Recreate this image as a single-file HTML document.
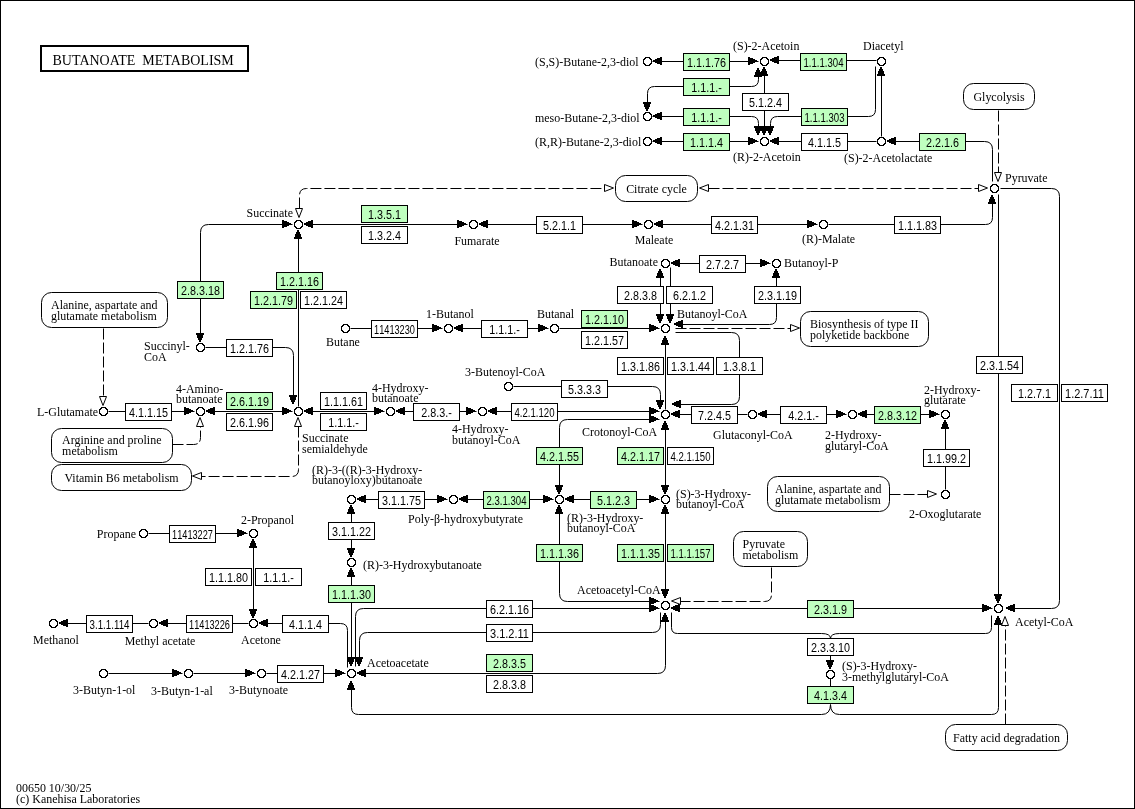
<!DOCTYPE html>
<html><head><meta charset="utf-8"><style>
html,body{margin:0;padding:0;background:#fff;}
svg{display:block;will-change:transform;}
.nm{font-family:"Liberation Serif",serif;font-size:13px;fill:#000;}
.ec{font-family:"Liberation Sans",sans-serif;font-size:12.5px;fill:#000;}
.ttl{font-family:"Liberation Serif",serif;font-size:14px;fill:#000;}
</style></head><body>
<svg width="1135" height="809" viewBox="0 0 1135 809">
<rect x="0.5" y="0.5" width="1134" height="808" fill="#fff" stroke="#000" stroke-width="1"/>
<rect x="41" y="46" width="207" height="25" fill="#fff" stroke="#000" stroke-width="2"/>
<text x="52.5" y="65" class="ttl">BUTANOATE&#160; METABOLISM</text>
<path d="M652.5,61.5 L758.5,61.5" fill="none" stroke="#000" stroke-width="1"/>
<path d="M653,60h1v2h-1z M654,60h1v2h-1z M655,59h1v4h-1z M656,59h1v4h-1z M657,58h1v6h-1z M658,58h1v6h-1z M659,58h1v6h-1z M660,57h1v8h-1z M661,57h1v8h-1z" fill="#000"/>
<path d="M757,61h1v1h-1z M756,60h1v2h-1z M755,60h1v2h-1z M754,59h1v4h-1z M753,59h1v4h-1z M752,58h1v6h-1z M751,58h1v6h-1z M750,58h1v6h-1z M749,57h1v8h-1z M748,57h1v8h-1z" fill="#000"/>
<path d="M770.5,60.5 L876.5,60.5" fill="none" stroke="#000" stroke-width="1"/>
<path d="M770,59h1v2h-1z M771,59h1v2h-1z M772,58h1v4h-1z M773,58h1v4h-1z M774,57h1v6h-1z M775,57h1v6h-1z M776,57h1v6h-1z M777,56h1v8h-1z M778,56h1v8h-1z" fill="#000"/>
<path d="M647.5,109.5 L647.50,93.50 Q647.5,86.5 654.50,86.50 L751.50,86.50 Q758.5,86.5 758.50,79.50 L758.5,68.5" fill="none" stroke="#000" stroke-width="1"/>
<path d="M646,110h2v1h-2z M646,109h2v1h-2z M645,108h4v1h-4z M645,107h4v1h-4z M644,106h6v1h-6z M644,105h6v1h-6z M644,104h6v1h-6z M643,103h8v1h-8z M643,102h8v1h-8z" fill="#000"/>
<path d="M757,68h2v1h-2z M757,69h2v1h-2z M756,70h4v1h-4z M756,71h4v1h-4z M755,72h6v1h-6z M755,73h6v1h-6z M755,74h6v1h-6z M754,75h8v1h-8z M754,76h8v1h-8z" fill="#000"/>
<path d="M764.5,67.5 L764.5,134.5" fill="none" stroke="#000" stroke-width="1"/>
<path d="M763,67h2v1h-2z M763,68h2v1h-2z M762,69h4v1h-4z M762,70h4v1h-4z M761,71h6v1h-6z M761,72h6v1h-6z M761,73h6v1h-6z M760,74h8v1h-8z M760,75h8v1h-8z" fill="#000"/>
<path d="M763,134h2v1h-2z M763,133h2v1h-2z M762,132h4v1h-4z M762,131h4v1h-4z M761,130h6v1h-6z M761,129h6v1h-6z M761,128h6v1h-6z M760,127h8v1h-8z M760,126h8v1h-8z" fill="#000"/>
<path d="M652.5,116.5 L751.50,116.50 Q758.5,116.5 758.50,123.50 L758.5,134.5" fill="none" stroke="#000" stroke-width="1"/>
<path d="M653,115h1v2h-1z M654,115h1v2h-1z M655,114h1v4h-1z M656,114h1v4h-1z M657,113h1v6h-1z M658,113h1v6h-1z M659,113h1v6h-1z M660,112h1v8h-1z M661,112h1v8h-1z" fill="#000"/>
<path d="M757,134h2v1h-2z M757,133h2v1h-2z M756,132h4v1h-4z M756,131h4v1h-4z M755,130h6v1h-6z M755,129h6v1h-6z M755,128h6v1h-6z M754,127h8v1h-8z M754,126h8v1h-8z" fill="#000"/>
<path d="M652.5,141.5 L758.5,141.5" fill="none" stroke="#000" stroke-width="1"/>
<path d="M653,140h1v2h-1z M654,140h1v2h-1z M655,139h1v4h-1z M656,139h1v4h-1z M657,138h1v6h-1z M658,138h1v6h-1z M659,138h1v6h-1z M660,137h1v8h-1z M661,137h1v8h-1z" fill="#000"/>
<path d="M757,141h1v1h-1z M756,140h1v2h-1z M755,140h1v2h-1z M754,139h1v4h-1z M753,139h1v4h-1z M752,138h1v6h-1z M751,138h1v6h-1z M750,138h1v6h-1z M749,137h1v8h-1z M748,137h1v8h-1z" fill="#000"/>
<path d="M770.5,141.5 L876.5,141.5" fill="none" stroke="#000" stroke-width="1"/>
<path d="M770,140h1v2h-1z M771,140h1v2h-1z M772,139h1v4h-1z M773,139h1v4h-1z M774,138h1v6h-1z M775,138h1v6h-1z M776,138h1v6h-1z M777,137h1v8h-1z M778,137h1v8h-1z" fill="#000"/>
<path d="M875.5,66.5 L875.50,109.50 Q875.5,116.5 868.50,116.50 L777.50,116.50 Q770.5,116.5 770.50,123.50 L770.5,134.5" fill="none" stroke="#000" stroke-width="1"/>
<path d="M769,134h2v1h-2z M769,133h2v1h-2z M768,132h4v1h-4z M768,131h4v1h-4z M767,130h6v1h-6z M767,129h6v1h-6z M767,128h6v1h-6z M766,127h8v1h-8z M766,126h8v1h-8z" fill="#000"/>
<path d="M881.5,67.5 L881.5,136.5" fill="none" stroke="#000" stroke-width="1"/>
<path d="M880,67h2v1h-2z M880,68h2v1h-2z M879,69h4v1h-4z M879,70h4v1h-4z M878,71h6v1h-6z M878,72h6v1h-6z M878,73h6v1h-6z M877,74h8v1h-8z M877,75h8v1h-8z" fill="#000"/>
<path d="M887.5,141.5 L984.50,141.50 Q992.5,141.5 992.50,149.50 L992.5,181.5" fill="none" stroke="#000" stroke-width="1"/>
<path d="M887,140h1v2h-1z M888,140h1v2h-1z M889,139h1v4h-1z M890,139h1v4h-1z M891,138h1v6h-1z M892,138h1v6h-1z M893,138h1v6h-1z M894,137h1v8h-1z M895,137h1v8h-1z" fill="#000"/>
<path d="M998.5,110.5 L998.5,172.5" fill="none" stroke="#000" stroke-width="1" stroke-dasharray="11 3"/>
<polygon points="994.5,172.5 1001.5,172.5 998.0,181.5" fill="#fff" stroke="#000" stroke-width="1"/>
<path d="M708.5,188.5 L978.5,188.5" fill="none" stroke="#000" stroke-width="1" stroke-dasharray="11 3"/>
<polygon points="708.5,184.5 708.5,191.5 699.5,188.0" fill="#fff" stroke="#000" stroke-width="1"/>
<polygon points="978.5,184.5 978.5,191.5 987.5,188.0" fill="#fff" stroke="#000" stroke-width="1"/>
<path d="M299.5,208.5 L299.50,195.50 Q299.5,188.5 306.50,188.50 L604.5,188.5" fill="none" stroke="#000" stroke-width="1" stroke-dasharray="11 3"/>
<polygon points="604.5,184.5 604.5,191.5 613.5,188.0" fill="#fff" stroke="#000" stroke-width="1"/>
<polygon points="295.5,208.5 302.5,208.5 299.0,217.5" fill="#fff" stroke="#000" stroke-width="1"/>
<path d="M304.5,224.5 L467.5,224.5" fill="none" stroke="#000" stroke-width="1"/>
<path d="M304,223h1v2h-1z M305,223h1v2h-1z M306,222h1v4h-1z M307,222h1v4h-1z M308,221h1v6h-1z M309,221h1v6h-1z M310,221h1v6h-1z M311,220h1v8h-1z M312,220h1v8h-1z" fill="#000"/>
<path d="M466,224h1v1h-1z M465,223h1v2h-1z M464,223h1v2h-1z M463,222h1v4h-1z M462,222h1v4h-1z M461,221h1v6h-1z M460,221h1v6h-1z M459,221h1v6h-1z M458,220h1v8h-1z M457,220h1v8h-1z" fill="#000"/>
<path d="M479.5,224.5 L642.5,224.5" fill="none" stroke="#000" stroke-width="1"/>
<path d="M479,223h1v2h-1z M480,223h1v2h-1z M481,222h1v4h-1z M482,222h1v4h-1z M483,221h1v6h-1z M484,221h1v6h-1z M485,221h1v6h-1z M486,220h1v8h-1z M487,220h1v8h-1z" fill="#000"/>
<path d="M641,224h1v1h-1z M640,223h1v2h-1z M639,223h1v2h-1z M638,222h1v4h-1z M637,222h1v4h-1z M636,221h1v6h-1z M635,221h1v6h-1z M634,221h1v6h-1z M633,220h1v8h-1z M632,220h1v8h-1z" fill="#000"/>
<path d="M654.5,224.5 L817.5,224.5" fill="none" stroke="#000" stroke-width="1"/>
<path d="M654,223h1v2h-1z M655,223h1v2h-1z M656,222h1v4h-1z M657,222h1v4h-1z M658,221h1v6h-1z M659,221h1v6h-1z M660,221h1v6h-1z M661,220h1v8h-1z M662,220h1v8h-1z" fill="#000"/>
<path d="M816,224h1v1h-1z M815,223h1v2h-1z M814,223h1v2h-1z M813,222h1v4h-1z M812,222h1v4h-1z M811,221h1v6h-1z M810,221h1v6h-1z M809,221h1v6h-1z M808,220h1v8h-1z M807,220h1v8h-1z" fill="#000"/>
<path d="M828.5,224.5 L985.50,224.50 Q992.5,224.5 992.50,217.50 L992.5,195.5" fill="none" stroke="#000" stroke-width="1"/>
<path d="M991,195h2v1h-2z M991,196h2v1h-2z M990,197h4v1h-4z M990,198h4v1h-4z M989,199h6v1h-6z M989,200h6v1h-6z M989,201h6v1h-6z M988,202h8v1h-8z M988,203h8v1h-8z" fill="#000"/>
<path d="M998.5,194.5 L998.5,602.5" fill="none" stroke="#000" stroke-width="1"/>
<path d="M997,602h2v1h-2z M997,601h2v1h-2z M996,600h4v1h-4z M996,599h4v1h-4z M995,598h6v1h-6z M995,597h6v1h-6z M995,596h6v1h-6z M994,595h8v1h-8z M994,594h8v1h-8z" fill="#000"/>
<path d="M1000.5,188.5 L1051.50,188.50 Q1059.5,188.5 1059.50,196.50 L1059.50,600.50 Q1059.5,608.5 1051.50,608.50 L1006.5,608.5" fill="none" stroke="#000" stroke-width="1"/>
<path d="M1006,607h1v2h-1z M1007,607h1v2h-1z M1008,606h1v4h-1z M1009,606h1v4h-1z M1010,605h1v6h-1z M1011,605h1v6h-1z M1012,605h1v6h-1z M1013,604h1v8h-1z M1014,604h1v8h-1z" fill="#000"/>
<path d="M292.5,224.5 L208.50,224.50 Q200.5,224.5 200.50,232.50 L200.5,341.5" fill="none" stroke="#000" stroke-width="1"/>
<path d="M291,224h1v1h-1z M290,223h1v2h-1z M289,223h1v2h-1z M288,222h1v4h-1z M287,222h1v4h-1z M286,221h1v6h-1z M285,221h1v6h-1z M284,221h1v6h-1z M283,220h1v8h-1z M282,220h1v8h-1z" fill="#000"/>
<path d="M199,341h2v1h-2z M199,340h2v1h-2z M198,339h4v1h-4z M198,338h4v1h-4z M197,337h6v1h-6z M197,336h6v1h-6z M197,335h6v1h-6z M196,334h8v1h-8z M196,333h8v1h-8z" fill="#000"/>
<path d="M205.5,347.5 L285.50,347.50 Q293.5,347.5 293.50,355.50 L293.5,403.5" fill="none" stroke="#000" stroke-width="1"/>
<path d="M292,403h2v1h-2z M292,402h2v1h-2z M291,401h4v1h-4z M291,400h4v1h-4z M290,399h6v1h-6z M290,398h6v1h-6z M290,397h6v1h-6z M289,396h8v1h-8z M289,395h8v1h-8z" fill="#000"/>
<path d="M298.5,406.5 L298.5,230.5" fill="none" stroke="#000" stroke-width="1"/>
<path d="M297,230h2v1h-2z M297,231h2v1h-2z M296,232h4v1h-4z M296,233h4v1h-4z M295,234h6v1h-6z M295,235h6v1h-6z M295,236h6v1h-6z M294,237h8v1h-8z M294,238h8v1h-8z" fill="#000"/>
<path d="M108.5,411.5 L194.5,411.5" fill="none" stroke="#000" stroke-width="1"/>
<path d="M193,411h1v1h-1z M192,410h1v2h-1z M191,410h1v2h-1z M190,409h1v4h-1z M189,409h1v4h-1z M188,408h1v6h-1z M187,408h1v6h-1z M186,408h1v6h-1z M185,407h1v8h-1z M184,407h1v8h-1z" fill="#000"/>
<path d="M206.5,411.5 L292.5,411.5" fill="none" stroke="#000" stroke-width="1"/>
<path d="M206,410h1v2h-1z M207,410h1v2h-1z M208,409h1v4h-1z M209,409h1v4h-1z M210,408h1v6h-1z M211,408h1v6h-1z M212,408h1v6h-1z M213,407h1v8h-1z M214,407h1v8h-1z" fill="#000"/>
<path d="M291,411h1v1h-1z M290,410h1v2h-1z M289,410h1v2h-1z M288,409h1v4h-1z M287,409h1v4h-1z M286,408h1v6h-1z M285,408h1v6h-1z M284,408h1v6h-1z M283,407h1v8h-1z M282,407h1v8h-1z" fill="#000"/>
<path d="M304.5,411.5 L384.5,411.5" fill="none" stroke="#000" stroke-width="1"/>
<path d="M304,410h1v2h-1z M305,410h1v2h-1z M306,409h1v4h-1z M307,409h1v4h-1z M308,408h1v6h-1z M309,408h1v6h-1z M310,408h1v6h-1z M311,407h1v8h-1z M312,407h1v8h-1z" fill="#000"/>
<path d="M383,411h1v1h-1z M382,410h1v2h-1z M381,410h1v2h-1z M380,409h1v4h-1z M379,409h1v4h-1z M378,408h1v6h-1z M377,408h1v6h-1z M376,408h1v6h-1z M375,407h1v8h-1z M374,407h1v8h-1z" fill="#000"/>
<path d="M396.5,411.5 L476.5,411.5" fill="none" stroke="#000" stroke-width="1"/>
<path d="M396,410h1v2h-1z M397,410h1v2h-1z M398,409h1v4h-1z M399,409h1v4h-1z M400,408h1v6h-1z M401,408h1v6h-1z M402,408h1v6h-1z M403,407h1v8h-1z M404,407h1v8h-1z" fill="#000"/>
<path d="M475,411h1v1h-1z M474,410h1v2h-1z M473,410h1v2h-1z M472,409h1v4h-1z M471,409h1v4h-1z M470,408h1v6h-1z M469,408h1v6h-1z M468,408h1v6h-1z M467,407h1v8h-1z M466,407h1v8h-1z" fill="#000"/>
<path d="M488.5,411.5 L659.5,411.5" fill="none" stroke="#000" stroke-width="1"/>
<path d="M488,410h1v2h-1z M489,410h1v2h-1z M490,409h1v4h-1z M491,409h1v4h-1z M492,408h1v6h-1z M493,408h1v6h-1z M494,408h1v6h-1z M495,407h1v8h-1z M496,407h1v8h-1z" fill="#000"/>
<path d="M658,411h1v1h-1z M657,410h1v2h-1z M656,410h1v2h-1z M655,409h1v4h-1z M654,409h1v4h-1z M653,408h1v6h-1z M652,408h1v6h-1z M651,408h1v6h-1z M650,407h1v8h-1z M649,407h1v8h-1z" fill="#000"/>
<path d="M103.5,328.5 L103.5,396.5" fill="none" stroke="#000" stroke-width="1" stroke-dasharray="11 3"/>
<polygon points="99.5,396.5 106.5,396.5 103.0,405.5" fill="#fff" stroke="#000" stroke-width="1"/>
<path d="M172.5,444.5 L193.50,444.50 Q200.5,444.5 200.50,437.50 L200.5,426.5" fill="none" stroke="#000" stroke-width="1" stroke-dasharray="11 3"/>
<polygon points="196.5,426.5 203.5,426.5 200.0,417.5" fill="#fff" stroke="#000" stroke-width="1"/>
<path d="M298.5,426.5 L298.50,469.50 Q298.5,476.5 291.50,476.50 L201.5,476.5" fill="none" stroke="#000" stroke-width="1" stroke-dasharray="11 3"/>
<polygon points="294.5,426.5 301.5,426.5 298.0,417.5" fill="#fff" stroke="#000" stroke-width="1"/>
<polygon points="201.5,472.5 201.5,479.5 192.5,476.0" fill="#fff" stroke="#000" stroke-width="1"/>
<path d="M350.5,328.5 L442.5,328.5" fill="none" stroke="#000" stroke-width="1"/>
<path d="M441,328h1v1h-1z M440,327h1v2h-1z M439,327h1v2h-1z M438,326h1v4h-1z M437,326h1v4h-1z M436,325h1v6h-1z M435,325h1v6h-1z M434,325h1v6h-1z M433,324h1v8h-1z M432,324h1v8h-1z" fill="#000"/>
<path d="M454.5,328.5 L548.5,328.5" fill="none" stroke="#000" stroke-width="1"/>
<path d="M454,327h1v2h-1z M455,327h1v2h-1z M456,326h1v4h-1z M457,326h1v4h-1z M458,325h1v6h-1z M459,325h1v6h-1z M460,325h1v6h-1z M461,324h1v8h-1z M462,324h1v8h-1z" fill="#000"/>
<path d="M547,328h1v1h-1z M546,327h1v2h-1z M545,327h1v2h-1z M544,326h1v4h-1z M543,326h1v4h-1z M542,325h1v6h-1z M541,325h1v6h-1z M540,325h1v6h-1z M539,324h1v8h-1z M538,324h1v8h-1z" fill="#000"/>
<path d="M559.5,328.5 L659.5,328.5" fill="none" stroke="#000" stroke-width="1"/>
<path d="M658,328h1v1h-1z M657,327h1v2h-1z M656,327h1v2h-1z M655,326h1v4h-1z M654,326h1v4h-1z M653,325h1v6h-1z M652,325h1v6h-1z M651,325h1v6h-1z M650,324h1v8h-1z M649,324h1v8h-1z" fill="#000"/>
<path d="M671.5,263.5 L770.5,263.5" fill="none" stroke="#000" stroke-width="1"/>
<path d="M671,262h1v2h-1z M672,262h1v2h-1z M673,261h1v4h-1z M674,261h1v4h-1z M675,260h1v6h-1z M676,260h1v6h-1z M677,260h1v6h-1z M678,259h1v8h-1z M679,259h1v8h-1z" fill="#000"/>
<path d="M769,263h1v1h-1z M768,262h1v2h-1z M767,262h1v2h-1z M766,261h1v4h-1z M765,261h1v4h-1z M764,260h1v6h-1z M763,260h1v6h-1z M762,260h1v6h-1z M761,259h1v8h-1z M760,259h1v8h-1z" fill="#000"/>
<path d="M660.5,269.5 L660.5,322.5" fill="none" stroke="#000" stroke-width="1"/>
<path d="M659,269h2v1h-2z M659,270h2v1h-2z M658,271h4v1h-4z M658,272h4v1h-4z M657,273h6v1h-6z M657,274h6v1h-6z M657,275h6v1h-6z M656,276h8v1h-8z M656,277h8v1h-8z" fill="#000"/>
<path d="M659,322h2v1h-2z M659,321h2v1h-2z M658,320h4v1h-4z M658,319h4v1h-4z M657,318h6v1h-6z M657,317h6v1h-6z M657,316h6v1h-6z M656,315h8v1h-8z M656,314h8v1h-8z" fill="#000"/>
<path d="M670.5,267.5 L670.5,322.5" fill="none" stroke="#000" stroke-width="1"/>
<path d="M669,322h2v1h-2z M669,321h2v1h-2z M668,320h4v1h-4z M668,319h4v1h-4z M667,318h6v1h-6z M667,317h6v1h-6z M667,316h6v1h-6z M666,315h8v1h-8z M666,314h8v1h-8z" fill="#000"/>
<path d="M776.5,269.5 L776.50,317.50 Q776.5,324.5 769.50,324.50 L674.5,324.5" fill="none" stroke="#000" stroke-width="1"/>
<path d="M775,269h2v1h-2z M775,270h2v1h-2z M774,271h4v1h-4z M774,272h4v1h-4z M773,273h6v1h-6z M773,274h6v1h-6z M773,275h6v1h-6z M772,276h8v1h-8z M772,277h8v1h-8z" fill="#000"/>
<path d="M674,323h1v2h-1z M675,323h1v2h-1z M676,322h1v4h-1z M677,322h1v4h-1z M678,321h1v6h-1z M679,321h1v6h-1z M680,321h1v6h-1z M681,320h1v8h-1z M682,320h1v8h-1z" fill="#000"/>
<path d="M675.5,328.5 L790.5,328.5" fill="none" stroke="#000" stroke-width="1" stroke-dasharray="11 3"/>
<polygon points="790.5,324.5 790.5,331.5 799.5,328.0" fill="#fff" stroke="#000" stroke-width="1"/>
<path d="M675.5,332.5 L731.50,332.50 Q739.5,332.5 739.50,340.50 L739.50,396.50 Q739.5,404.5 731.50,404.50 L672.5,404.5" fill="none" stroke="#000" stroke-width="1"/>
<path d="M672,403h1v2h-1z M673,403h1v2h-1z M674,402h1v4h-1z M675,402h1v4h-1z M676,401h1v6h-1z M677,401h1v6h-1z M678,401h1v6h-1z M679,400h1v8h-1z M680,400h1v8h-1z" fill="#000"/>
<path d="M665.5,409.5 L665.5,336.5" fill="none" stroke="#000" stroke-width="1"/>
<path d="M664,336h2v1h-2z M664,337h2v1h-2z M663,338h4v1h-4z M663,339h4v1h-4z M662,340h6v1h-6z M662,341h6v1h-6z M662,342h6v1h-6z M661,343h8v1h-8z M661,344h8v1h-8z" fill="#000"/>
<path d="M513.5,386.5 L652.50,386.50 Q660.5,386.5 660.50,394.50 L660.5,408.5" fill="none" stroke="#000" stroke-width="1"/>
<path d="M659,408h2v1h-2z M659,407h2v1h-2z M658,406h4v1h-4z M658,405h4v1h-4z M657,404h6v1h-6z M657,403h6v1h-6z M657,402h6v1h-6z M656,401h8v1h-8z M656,400h8v1h-8z" fill="#000"/>
<path d="M671.5,414.5 L747.5,414.5" fill="none" stroke="#000" stroke-width="1"/>
<path d="M671,413h1v2h-1z M672,413h1v2h-1z M673,412h1v4h-1z M674,412h1v4h-1z M675,411h1v6h-1z M676,411h1v6h-1z M677,411h1v6h-1z M678,410h1v8h-1z M679,410h1v8h-1z" fill="#000"/>
<path d="M758.5,414.5 L846.5,414.5" fill="none" stroke="#000" stroke-width="1"/>
<path d="M758,413h1v2h-1z M759,413h1v2h-1z M760,412h1v4h-1z M761,412h1v4h-1z M762,411h1v6h-1z M763,411h1v6h-1z M764,411h1v6h-1z M765,410h1v8h-1z M766,410h1v8h-1z" fill="#000"/>
<path d="M845,414h1v1h-1z M844,413h1v2h-1z M843,413h1v2h-1z M842,412h1v4h-1z M841,412h1v4h-1z M840,411h1v6h-1z M839,411h1v6h-1z M838,411h1v6h-1z M837,410h1v8h-1z M836,410h1v8h-1z" fill="#000"/>
<path d="M858.5,414.5 L939.5,414.5" fill="none" stroke="#000" stroke-width="1"/>
<path d="M858,413h1v2h-1z M859,413h1v2h-1z M860,412h1v4h-1z M861,412h1v4h-1z M862,411h1v6h-1z M863,411h1v6h-1z M864,411h1v6h-1z M865,410h1v8h-1z M866,410h1v8h-1z" fill="#000"/>
<path d="M938,414h1v1h-1z M937,413h1v2h-1z M936,413h1v2h-1z M935,412h1v4h-1z M934,412h1v4h-1z M933,411h1v6h-1z M932,411h1v6h-1z M931,411h1v6h-1z M930,410h1v8h-1z M929,410h1v8h-1z" fill="#000"/>
<path d="M945.5,489.5 L945.5,420.5" fill="none" stroke="#000" stroke-width="1"/>
<path d="M944,420h2v1h-2z M944,421h2v1h-2z M943,422h4v1h-4z M943,423h4v1h-4z M942,424h6v1h-6z M942,425h6v1h-6z M942,426h6v1h-6z M941,427h8v1h-8z M941,428h8v1h-8z" fill="#000"/>
<path d="M889.5,494.5 L927.5,494.5" fill="none" stroke="#000" stroke-width="1" stroke-dasharray="11 3"/>
<polygon points="927.5,490.5 927.5,497.5 936.5,494.0" fill="#fff" stroke="#000" stroke-width="1"/>
<path d="M559.5,493.5 L559.50,427.50 Q559.5,419.5 567.50,419.50 L659.5,419.5" fill="none" stroke="#000" stroke-width="1"/>
<path d="M558,493h2v1h-2z M558,492h2v1h-2z M557,491h4v1h-4z M557,490h4v1h-4z M556,489h6v1h-6z M556,488h6v1h-6z M556,487h6v1h-6z M555,486h8v1h-8z M555,485h8v1h-8z" fill="#000"/>
<path d="M658,419h1v1h-1z M657,418h1v2h-1z M656,418h1v2h-1z M655,417h1v4h-1z M654,417h1v4h-1z M653,416h1v6h-1z M652,416h1v6h-1z M651,416h1v6h-1z M650,415h1v8h-1z M649,415h1v8h-1z" fill="#000"/>
<path d="M665.5,421.5 L665.5,493.5" fill="none" stroke="#000" stroke-width="1"/>
<path d="M664,421h2v1h-2z M664,422h2v1h-2z M663,423h4v1h-4z M663,424h4v1h-4z M662,425h6v1h-6z M662,426h6v1h-6z M662,427h6v1h-6z M661,428h8v1h-8z M661,429h8v1h-8z" fill="#000"/>
<path d="M664,493h2v1h-2z M664,492h2v1h-2z M663,491h4v1h-4z M663,490h4v1h-4z M662,489h6v1h-6z M662,488h6v1h-6z M662,487h6v1h-6z M661,486h8v1h-8z M661,485h8v1h-8z" fill="#000"/>
<path d="M357.5,499.5 L447.5,499.5" fill="none" stroke="#000" stroke-width="1"/>
<path d="M357,498h1v2h-1z M358,498h1v2h-1z M359,497h1v4h-1z M360,497h1v4h-1z M361,496h1v6h-1z M362,496h1v6h-1z M363,496h1v6h-1z M364,495h1v8h-1z M365,495h1v8h-1z" fill="#000"/>
<path d="M446,499h1v1h-1z M445,498h1v2h-1z M444,498h1v2h-1z M443,497h1v4h-1z M442,497h1v4h-1z M441,496h1v6h-1z M440,496h1v6h-1z M439,496h1v6h-1z M438,495h1v8h-1z M437,495h1v8h-1z" fill="#000"/>
<path d="M459.5,499.5 L553.5,499.5" fill="none" stroke="#000" stroke-width="1"/>
<path d="M459,498h1v2h-1z M460,498h1v2h-1z M461,497h1v4h-1z M462,497h1v4h-1z M463,496h1v6h-1z M464,496h1v6h-1z M465,496h1v6h-1z M466,495h1v8h-1z M467,495h1v8h-1z" fill="#000"/>
<path d="M552,499h1v1h-1z M551,498h1v2h-1z M550,498h1v2h-1z M549,497h1v4h-1z M548,497h1v4h-1z M547,496h1v6h-1z M546,496h1v6h-1z M545,496h1v6h-1z M544,495h1v8h-1z M543,495h1v8h-1z" fill="#000"/>
<path d="M565.5,499.5 L659.5,499.5" fill="none" stroke="#000" stroke-width="1"/>
<path d="M565,498h1v2h-1z M566,498h1v2h-1z M567,497h1v4h-1z M568,497h1v4h-1z M569,496h1v6h-1z M570,496h1v6h-1z M571,496h1v6h-1z M572,495h1v8h-1z M573,495h1v8h-1z" fill="#000"/>
<path d="M658,499h1v1h-1z M657,498h1v2h-1z M656,498h1v2h-1z M655,497h1v4h-1z M654,497h1v4h-1z M653,496h1v6h-1z M652,496h1v6h-1z M651,496h1v6h-1z M650,495h1v8h-1z M649,495h1v8h-1z" fill="#000"/>
<path d="M351.5,505.5 L351.5,556.5" fill="none" stroke="#000" stroke-width="1"/>
<path d="M350,505h2v1h-2z M350,506h2v1h-2z M349,507h4v1h-4z M349,508h4v1h-4z M348,509h6v1h-6z M348,510h6v1h-6z M348,511h6v1h-6z M347,512h8v1h-8z M347,513h8v1h-8z" fill="#000"/>
<path d="M350,556h2v1h-2z M350,555h2v1h-2z M349,554h4v1h-4z M349,553h4v1h-4z M348,552h6v1h-6z M348,551h6v1h-6z M348,550h6v1h-6z M347,549h8v1h-8z M347,548h8v1h-8z" fill="#000"/>
<path d="M351.5,568.5 L351.5,665.5" fill="none" stroke="#000" stroke-width="1"/>
<path d="M350,568h2v1h-2z M350,569h2v1h-2z M349,570h4v1h-4z M349,571h4v1h-4z M348,572h6v1h-6z M348,573h6v1h-6z M348,574h6v1h-6z M347,575h8v1h-8z M347,576h8v1h-8z" fill="#000"/>
<path d="M350,665h2v1h-2z M350,664h2v1h-2z M349,663h4v1h-4z M349,662h4v1h-4z M348,661h6v1h-6z M348,660h6v1h-6z M348,659h6v1h-6z M347,658h8v1h-8z M347,657h8v1h-8z" fill="#000"/>
<path d="M559.5,505.5 L559.50,593.50 Q559.5,601.5 567.50,601.50 L659.5,601.5" fill="none" stroke="#000" stroke-width="1"/>
<path d="M558,505h2v1h-2z M558,506h2v1h-2z M557,507h4v1h-4z M557,508h4v1h-4z M556,509h6v1h-6z M556,510h6v1h-6z M556,511h6v1h-6z M555,512h8v1h-8z M555,513h8v1h-8z" fill="#000"/>
<path d="M658,601h1v1h-1z M657,600h1v2h-1z M656,600h1v2h-1z M655,599h1v4h-1z M654,599h1v4h-1z M653,598h1v6h-1z M652,598h1v6h-1z M651,598h1v6h-1z M650,597h1v8h-1z M649,597h1v8h-1z" fill="#000"/>
<path d="M665.5,505.5 L665.5,597.5" fill="none" stroke="#000" stroke-width="1"/>
<path d="M664,505h2v1h-2z M664,506h2v1h-2z M663,507h4v1h-4z M663,508h4v1h-4z M662,509h6v1h-6z M662,510h6v1h-6z M662,511h6v1h-6z M661,512h8v1h-8z M661,513h8v1h-8z" fill="#000"/>
<path d="M664,597h2v1h-2z M664,596h2v1h-2z M663,595h4v1h-4z M663,594h4v1h-4z M662,593h6v1h-6z M662,592h6v1h-6z M662,591h6v1h-6z M661,590h8v1h-8z M661,589h8v1h-8z" fill="#000"/>
<path d="M659.5,608.5 L363.50,608.50 Q355.5,608.5 355.50,616.50 L355.5,666.5" fill="none" stroke="#000" stroke-width="1"/>
<path d="M658,608h1v1h-1z M657,607h1v2h-1z M656,607h1v2h-1z M655,606h1v4h-1z M654,606h1v4h-1z M653,605h1v6h-1z M652,605h1v6h-1z M651,605h1v6h-1z M650,604h1v8h-1z M649,604h1v8h-1z" fill="#000"/>
<path d="M660.5,612.5 L660.50,624.50 Q660.5,632.5 652.50,632.50 L367.50,632.50 Q359.5,632.5 359.50,640.50 L359.5,665.5" fill="none" stroke="#000" stroke-width="1"/>
<path d="M358,665h2v1h-2z M358,664h2v1h-2z M357,663h4v1h-4z M357,662h4v1h-4z M356,661h6v1h-6z M356,660h6v1h-6z M356,659h6v1h-6z M355,658h8v1h-8z M355,657h8v1h-8z" fill="#000"/>
<path d="M357.5,673.5 L657.50,673.50 Q665.5,673.5 665.50,665.50 L665.5,613.5" fill="none" stroke="#000" stroke-width="1"/>
<path d="M357,672h1v2h-1z M358,672h1v2h-1z M359,671h1v4h-1z M360,671h1v4h-1z M361,670h1v6h-1z M362,670h1v6h-1z M363,670h1v6h-1z M364,669h1v8h-1z M365,669h1v8h-1z" fill="#000"/>
<path d="M664,613h2v1h-2z M664,614h2v1h-2z M663,615h4v1h-4z M663,616h4v1h-4z M662,617h6v1h-6z M662,618h6v1h-6z M662,619h6v1h-6z M661,620h8v1h-8z M661,621h8v1h-8z" fill="#000"/>
<path d="M671.5,608.5 L992.5,608.5" fill="none" stroke="#000" stroke-width="1"/>
<path d="M671,607h1v2h-1z M672,607h1v2h-1z M673,606h1v4h-1z M674,606h1v4h-1z M675,605h1v6h-1z M676,605h1v6h-1z M677,605h1v6h-1z M678,604h1v8h-1z M679,604h1v8h-1z" fill="#000"/>
<path d="M991,608h1v1h-1z M990,607h1v2h-1z M989,607h1v2h-1z M988,606h1v4h-1z M987,606h1v4h-1z M986,605h1v6h-1z M985,605h1v6h-1z M984,605h1v6h-1z M983,604h1v8h-1z M982,604h1v8h-1z" fill="#000"/>
<path d="M771.5,567.5 L771.50,594.50 Q771.5,601.5 764.50,601.50 L680.5,601.5" fill="none" stroke="#000" stroke-width="1" stroke-dasharray="11 3"/>
<polygon points="680.5,597.5 680.5,604.5 671.5,601.0" fill="#fff" stroke="#000" stroke-width="1"/>
<path d="M671.5,612.5 L671.50,627.50 Q671.5,633.5 677.50,633.50 L821.5,633.5" fill="none" stroke="#000" stroke-width="1"/>
<path d="M821.5,633.5 Q830.5,633.5 830.5,638.5 Q830.5,633.5 839.5,633.5" fill="none" stroke="#000" stroke-width="1"/>
<path d="M839.5,633.5 L985.50,633.50 Q991.5,633.5 991.50,627.50 L991.5,615.5" fill="none" stroke="#000" stroke-width="1"/>
<path d="M830.5,655.5 L830.5,668.5" fill="none" stroke="#000" stroke-width="1"/>
<path d="M829,668h2v1h-2z M829,667h2v1h-2z M828,666h4v1h-4z M828,665h4v1h-4z M827,664h6v1h-6z M827,663h6v1h-6z M827,662h6v1h-6z M826,661h8v1h-8z M826,660h8v1h-8z" fill="#000"/>
<path d="M830.5,678.5 L830.5,686.5" fill="none" stroke="#000" stroke-width="1"/>
<path d="M351.5,681.5 L351.50,707.50 Q351.5,714.5 358.50,714.50 L821.5,714.5" fill="none" stroke="#000" stroke-width="1"/>
<path d="M821.5,714.5 Q830.5,714.5 830.5,704.5 Q830.5,714.5 839.5,714.5" fill="none" stroke="#000" stroke-width="1"/>
<path d="M839.5,714.5 L991.50,714.50 Q998.5,714.5 998.50,707.50 L998.5,616.5" fill="none" stroke="#000" stroke-width="1"/>
<path d="M350,681h2v1h-2z M350,682h2v1h-2z M349,683h4v1h-4z M349,684h4v1h-4z M348,685h6v1h-6z M348,686h6v1h-6z M348,687h6v1h-6z M347,688h8v1h-8z M347,689h8v1h-8z" fill="#000"/>
<path d="M997,616h2v1h-2z M997,617h2v1h-2z M996,618h4v1h-4z M996,619h4v1h-4z M995,620h6v1h-6z M995,621h6v1h-6z M995,622h6v1h-6z M994,623h8v1h-8z M994,624h8v1h-8z" fill="#000"/>
<path d="M1005.5,724.5 L1005.5,625.5" fill="none" stroke="#000" stroke-width="1" stroke-dasharray="11 3"/>
<polygon points="1001.5,625.5 1008.5,625.5 1005.0,616.5" fill="#fff" stroke="#000" stroke-width="1"/>
<path d="M148.5,533.5 L247.5,533.5" fill="none" stroke="#000" stroke-width="1"/>
<path d="M246,533h1v1h-1z M245,532h1v2h-1z M244,532h1v2h-1z M243,531h1v4h-1z M242,531h1v4h-1z M241,530h1v6h-1z M240,530h1v6h-1z M239,530h1v6h-1z M238,529h1v8h-1z M237,529h1v8h-1z" fill="#000"/>
<path d="M253.5,539.5 L253.5,617.5" fill="none" stroke="#000" stroke-width="1"/>
<path d="M252,539h2v1h-2z M252,540h2v1h-2z M251,541h4v1h-4z M251,542h4v1h-4z M250,543h6v1h-6z M250,544h6v1h-6z M250,545h6v1h-6z M249,546h8v1h-8z M249,547h8v1h-8z" fill="#000"/>
<path d="M252,617h2v1h-2z M252,616h2v1h-2z M251,615h4v1h-4z M251,614h4v1h-4z M250,613h6v1h-6z M250,612h6v1h-6z M250,611h6v1h-6z M249,610h8v1h-8z M249,609h8v1h-8z" fill="#000"/>
<path d="M159.5,623.5 L248.5,623.5" fill="none" stroke="#000" stroke-width="1"/>
<path d="M159,622h1v2h-1z M160,622h1v2h-1z M161,621h1v4h-1z M162,621h1v4h-1z M163,620h1v6h-1z M164,620h1v6h-1z M165,620h1v6h-1z M166,619h1v8h-1z M167,619h1v8h-1z" fill="#000"/>
<path d="M59.5,623.5 L148.5,623.5" fill="none" stroke="#000" stroke-width="1"/>
<path d="M59,622h1v2h-1z M60,622h1v2h-1z M61,621h1v4h-1z M62,621h1v4h-1z M63,620h1v6h-1z M64,620h1v6h-1z M65,620h1v6h-1z M66,619h1v8h-1z M67,619h1v8h-1z" fill="#000"/>
<path d="M347.5,667.5 L347.50,630.50 Q347.5,623.5 340.50,623.50 L259.5,623.5" fill="none" stroke="#000" stroke-width="1"/>
<path d="M259,622h1v2h-1z M260,622h1v2h-1z M261,621h1v4h-1z M262,621h1v4h-1z M263,620h1v6h-1z M264,620h1v6h-1z M265,620h1v6h-1z M266,619h1v8h-1z M267,619h1v8h-1z" fill="#000"/>
<path d="M108.5,673.5 L182.5,673.5" fill="none" stroke="#000" stroke-width="1"/>
<path d="M181,673h1v1h-1z M180,672h1v2h-1z M179,672h1v2h-1z M178,671h1v4h-1z M177,671h1v4h-1z M176,670h1v6h-1z M175,670h1v6h-1z M174,670h1v6h-1z M173,669h1v8h-1z M172,669h1v8h-1z" fill="#000"/>
<path d="M193.5,673.5 L255.5,673.5" fill="none" stroke="#000" stroke-width="1"/>
<path d="M254,673h1v1h-1z M253,672h1v2h-1z M252,672h1v2h-1z M251,671h1v4h-1z M250,671h1v4h-1z M249,670h1v6h-1z M248,670h1v6h-1z M247,670h1v6h-1z M246,669h1v8h-1z M245,669h1v8h-1z" fill="#000"/>
<path d="M266.5,673.5 L345.5,673.5" fill="none" stroke="#000" stroke-width="1"/>
<path d="M344,673h1v1h-1z M343,672h1v2h-1z M342,672h1v2h-1z M341,671h1v4h-1z M340,671h1v4h-1z M339,670h1v6h-1z M338,670h1v6h-1z M337,670h1v6h-1z M336,669h1v8h-1z M335,669h1v8h-1z" fill="#000"/>
<rect x="41.5" y="292.5" width="126" height="35" rx="10" ry="10" fill="#fff" stroke="#000" stroke-width="1"/>
<text transform="translate(51.0,308.5) scale(0.92,1)" class="nm" text-anchor="start">Alanine, aspartate and</text>
<text transform="translate(51.0,319.5) scale(0.92,1)" class="nm" text-anchor="start">glutamate metabolism</text>
<rect x="51.5" y="428.5" width="121" height="34" rx="10" ry="10" fill="#fff" stroke="#000" stroke-width="1"/>
<text transform="translate(62.1,444.0) scale(0.92,1)" class="nm" text-anchor="start">Arginine and proline</text>
<text transform="translate(62.1,455.0) scale(0.92,1)" class="nm" text-anchor="start">metabolism</text>
<rect x="51.5" y="464.5" width="140" height="26" rx="10" ry="10" fill="#fff" stroke="#000" stroke-width="1"/>
<text transform="translate(121.5,482.0) scale(0.92,1)" class="nm" text-anchor="middle">Vitamin B6 metabolism</text>
<rect x="615.5" y="175.5" width="82" height="26" rx="10" ry="10" fill="#fff" stroke="#000" stroke-width="1"/>
<text transform="translate(656.5,193.0) scale(0.92,1)" class="nm" text-anchor="middle">Citrate cycle</text>
<rect x="963.5" y="83.5" width="71" height="26" rx="10" ry="10" fill="#fff" stroke="#000" stroke-width="1"/>
<text transform="translate(999.0,101.0) scale(0.92,1)" class="nm" text-anchor="middle">Glycolysis</text>
<rect x="800.5" y="311.5" width="128" height="35" rx="10" ry="10" fill="#fff" stroke="#000" stroke-width="1"/>
<text transform="translate(810.0,327.5) scale(0.92,1)" class="nm" text-anchor="start">Biosynthesis of type II</text>
<text transform="translate(810.0,338.5) scale(0.92,1)" class="nm" text-anchor="start">polyketide backbone</text>
<rect x="767.5" y="476.5" width="122" height="35" rx="10" ry="10" fill="#fff" stroke="#000" stroke-width="1"/>
<text transform="translate(775.0,492.5) scale(0.92,1)" class="nm" text-anchor="start">Alanine, aspartate and</text>
<text transform="translate(775.0,503.5) scale(0.92,1)" class="nm" text-anchor="start">glutamate metabolism</text>
<rect x="733.5" y="531.5" width="74" height="35" rx="10" ry="10" fill="#fff" stroke="#000" stroke-width="1"/>
<text transform="translate(742.5,547.5) scale(0.92,1)" class="nm" text-anchor="start">Pyruvate</text>
<text transform="translate(742.5,558.5) scale(0.92,1)" class="nm" text-anchor="start">metabolism</text>
<rect x="945.5" y="724.5" width="122" height="26" rx="10" ry="10" fill="#fff" stroke="#000" stroke-width="1"/>
<text transform="translate(1006.5,742.0) scale(0.92,1)" class="nm" text-anchor="middle">Fatty acid degradation</text>
<path d="M644,59h7v5h-7z M645,58h5v7h-5z" fill="#fff"/>
<path d="M645,57h5v1h-5z M645,65h5v1h-5z M643,59h1v5h-1z M651,59h1v5h-1z M644,58h2v1h-2z M649,58h2v1h-2z M644,64h2v1h-2z M649,64h2v1h-2z M644,59h1v1h-1z M650,59h1v1h-1z M644,63h1v1h-1z M650,63h1v1h-1z" fill="#000"/>
<path d="M644,114h7v5h-7z M645,113h5v7h-5z" fill="#fff"/>
<path d="M645,112h5v1h-5z M645,120h5v1h-5z M643,114h1v5h-1z M651,114h1v5h-1z M644,113h2v1h-2z M649,113h2v1h-2z M644,119h2v1h-2z M649,119h2v1h-2z M644,114h1v1h-1z M650,114h1v1h-1z M644,118h1v1h-1z M650,118h1v1h-1z" fill="#000"/>
<path d="M644,139h7v5h-7z M645,138h5v7h-5z" fill="#fff"/>
<path d="M645,137h5v1h-5z M645,145h5v1h-5z M643,139h1v5h-1z M651,139h1v5h-1z M644,138h2v1h-2z M649,138h2v1h-2z M644,144h2v1h-2z M649,144h2v1h-2z M644,139h1v1h-1z M650,139h1v1h-1z M644,143h1v1h-1z M650,143h1v1h-1z" fill="#000"/>
<path d="M761,59h7v5h-7z M762,58h5v7h-5z" fill="#fff"/>
<path d="M762,57h5v1h-5z M762,65h5v1h-5z M760,59h1v5h-1z M768,59h1v5h-1z M761,58h2v1h-2z M766,58h2v1h-2z M761,64h2v1h-2z M766,64h2v1h-2z M761,59h1v1h-1z M767,59h1v1h-1z M761,63h1v1h-1z M767,63h1v1h-1z" fill="#000"/>
<path d="M761,139h7v5h-7z M762,138h5v7h-5z" fill="#fff"/>
<path d="M762,137h5v1h-5z M762,145h5v1h-5z M760,139h1v5h-1z M768,139h1v5h-1z M761,138h2v1h-2z M766,138h2v1h-2z M761,144h2v1h-2z M766,144h2v1h-2z M761,139h1v1h-1z M767,139h1v1h-1z M761,143h1v1h-1z M767,143h1v1h-1z" fill="#000"/>
<path d="M878,59h7v5h-7z M879,58h5v7h-5z" fill="#fff"/>
<path d="M879,57h5v1h-5z M879,65h5v1h-5z M877,59h1v5h-1z M885,59h1v5h-1z M878,58h2v1h-2z M883,58h2v1h-2z M878,64h2v1h-2z M883,64h2v1h-2z M878,59h1v1h-1z M884,59h1v1h-1z M878,63h1v1h-1z M884,63h1v1h-1z" fill="#000"/>
<path d="M878,139h7v5h-7z M879,138h5v7h-5z" fill="#fff"/>
<path d="M879,137h5v1h-5z M879,145h5v1h-5z M877,139h1v5h-1z M885,139h1v5h-1z M878,138h2v1h-2z M883,138h2v1h-2z M878,144h2v1h-2z M883,144h2v1h-2z M878,139h1v1h-1z M884,139h1v1h-1z M878,143h1v1h-1z M884,143h1v1h-1z" fill="#000"/>
<path d="M991,186h7v5h-7z M992,185h5v7h-5z" fill="#fff"/>
<path d="M992,184h5v1h-5z M992,192h5v1h-5z M990,186h1v5h-1z M998,186h1v5h-1z M991,185h2v1h-2z M996,185h2v1h-2z M991,191h2v1h-2z M996,191h2v1h-2z M991,186h1v1h-1z M997,186h1v1h-1z M991,190h1v1h-1z M997,190h1v1h-1z" fill="#000"/>
<path d="M295,222h7v5h-7z M296,221h5v7h-5z" fill="#fff"/>
<path d="M296,220h5v1h-5z M296,228h5v1h-5z M294,222h1v5h-1z M302,222h1v5h-1z M295,221h2v1h-2z M300,221h2v1h-2z M295,227h2v1h-2z M300,227h2v1h-2z M295,222h1v1h-1z M301,222h1v1h-1z M295,226h1v1h-1z M301,226h1v1h-1z" fill="#000"/>
<path d="M470,222h7v5h-7z M471,221h5v7h-5z" fill="#fff"/>
<path d="M471,220h5v1h-5z M471,228h5v1h-5z M469,222h1v5h-1z M477,222h1v5h-1z M470,221h2v1h-2z M475,221h2v1h-2z M470,227h2v1h-2z M475,227h2v1h-2z M470,222h1v1h-1z M476,222h1v1h-1z M470,226h1v1h-1z M476,226h1v1h-1z" fill="#000"/>
<path d="M645,222h7v5h-7z M646,221h5v7h-5z" fill="#fff"/>
<path d="M646,220h5v1h-5z M646,228h5v1h-5z M644,222h1v5h-1z M652,222h1v5h-1z M645,221h2v1h-2z M650,221h2v1h-2z M645,227h2v1h-2z M650,227h2v1h-2z M645,222h1v1h-1z M651,222h1v1h-1z M645,226h1v1h-1z M651,226h1v1h-1z" fill="#000"/>
<path d="M820,222h7v5h-7z M821,221h5v7h-5z" fill="#fff"/>
<path d="M821,220h5v1h-5z M821,228h5v1h-5z M819,222h1v5h-1z M827,222h1v5h-1z M820,221h2v1h-2z M825,221h2v1h-2z M820,227h2v1h-2z M825,227h2v1h-2z M820,222h1v1h-1z M826,222h1v1h-1z M820,226h1v1h-1z M826,226h1v1h-1z" fill="#000"/>
<path d="M197,345h7v5h-7z M198,344h5v7h-5z" fill="#fff"/>
<path d="M198,343h5v1h-5z M198,351h5v1h-5z M196,345h1v5h-1z M204,345h1v5h-1z M197,344h2v1h-2z M202,344h2v1h-2z M197,350h2v1h-2z M202,350h2v1h-2z M197,345h1v1h-1z M203,345h1v1h-1z M197,349h1v1h-1z M203,349h1v1h-1z" fill="#000"/>
<path d="M100,409h7v5h-7z M101,408h5v7h-5z" fill="#fff"/>
<path d="M101,407h5v1h-5z M101,415h5v1h-5z M99,409h1v5h-1z M107,409h1v5h-1z M100,408h2v1h-2z M105,408h2v1h-2z M100,414h2v1h-2z M105,414h2v1h-2z M100,409h1v1h-1z M106,409h1v1h-1z M100,413h1v1h-1z M106,413h1v1h-1z" fill="#000"/>
<path d="M197,409h7v5h-7z M198,408h5v7h-5z" fill="#fff"/>
<path d="M198,407h5v1h-5z M198,415h5v1h-5z M196,409h1v5h-1z M204,409h1v5h-1z M197,408h2v1h-2z M202,408h2v1h-2z M197,414h2v1h-2z M202,414h2v1h-2z M197,409h1v1h-1z M203,409h1v1h-1z M197,413h1v1h-1z M203,413h1v1h-1z" fill="#000"/>
<path d="M295,409h7v5h-7z M296,408h5v7h-5z" fill="#fff"/>
<path d="M296,407h5v1h-5z M296,415h5v1h-5z M294,409h1v5h-1z M302,409h1v5h-1z M295,408h2v1h-2z M300,408h2v1h-2z M295,414h2v1h-2z M300,414h2v1h-2z M295,409h1v1h-1z M301,409h1v1h-1z M295,413h1v1h-1z M301,413h1v1h-1z" fill="#000"/>
<path d="M387,409h7v5h-7z M388,408h5v7h-5z" fill="#fff"/>
<path d="M388,407h5v1h-5z M388,415h5v1h-5z M386,409h1v5h-1z M394,409h1v5h-1z M387,408h2v1h-2z M392,408h2v1h-2z M387,414h2v1h-2z M392,414h2v1h-2z M387,409h1v1h-1z M393,409h1v1h-1z M387,413h1v1h-1z M393,413h1v1h-1z" fill="#000"/>
<path d="M479,409h7v5h-7z M480,408h5v7h-5z" fill="#fff"/>
<path d="M480,407h5v1h-5z M480,415h5v1h-5z M478,409h1v5h-1z M486,409h1v5h-1z M479,408h2v1h-2z M484,408h2v1h-2z M479,414h2v1h-2z M484,414h2v1h-2z M479,409h1v1h-1z M485,409h1v1h-1z M479,413h1v1h-1z M485,413h1v1h-1z" fill="#000"/>
<path d="M342,326h7v5h-7z M343,325h5v7h-5z" fill="#fff"/>
<path d="M343,324h5v1h-5z M343,332h5v1h-5z M341,326h1v5h-1z M349,326h1v5h-1z M342,325h2v1h-2z M347,325h2v1h-2z M342,331h2v1h-2z M347,331h2v1h-2z M342,326h1v1h-1z M348,326h1v1h-1z M342,330h1v1h-1z M348,330h1v1h-1z" fill="#000"/>
<path d="M445,326h7v5h-7z M446,325h5v7h-5z" fill="#fff"/>
<path d="M446,324h5v1h-5z M446,332h5v1h-5z M444,326h1v5h-1z M452,326h1v5h-1z M445,325h2v1h-2z M450,325h2v1h-2z M445,331h2v1h-2z M450,331h2v1h-2z M445,326h1v1h-1z M451,326h1v1h-1z M445,330h1v1h-1z M451,330h1v1h-1z" fill="#000"/>
<path d="M551,326h7v5h-7z M552,325h5v7h-5z" fill="#fff"/>
<path d="M552,324h5v1h-5z M552,332h5v1h-5z M550,326h1v5h-1z M558,326h1v5h-1z M551,325h2v1h-2z M556,325h2v1h-2z M551,331h2v1h-2z M556,331h2v1h-2z M551,326h1v1h-1z M557,326h1v1h-1z M551,330h1v1h-1z M557,330h1v1h-1z" fill="#000"/>
<path d="M662,326h7v5h-7z M663,325h5v7h-5z" fill="#fff"/>
<path d="M663,324h5v1h-5z M663,332h5v1h-5z M661,326h1v5h-1z M669,326h1v5h-1z M662,325h2v1h-2z M667,325h2v1h-2z M662,331h2v1h-2z M667,331h2v1h-2z M662,326h1v1h-1z M668,326h1v1h-1z M662,330h1v1h-1z M668,330h1v1h-1z" fill="#000"/>
<path d="M662,261h7v5h-7z M663,260h5v7h-5z" fill="#fff"/>
<path d="M663,259h5v1h-5z M663,267h5v1h-5z M661,261h1v5h-1z M669,261h1v5h-1z M662,260h2v1h-2z M667,260h2v1h-2z M662,266h2v1h-2z M667,266h2v1h-2z M662,261h1v1h-1z M668,261h1v1h-1z M662,265h1v1h-1z M668,265h1v1h-1z" fill="#000"/>
<path d="M773,261h7v5h-7z M774,260h5v7h-5z" fill="#fff"/>
<path d="M774,259h5v1h-5z M774,267h5v1h-5z M772,261h1v5h-1z M780,261h1v5h-1z M773,260h2v1h-2z M778,260h2v1h-2z M773,266h2v1h-2z M778,266h2v1h-2z M773,261h1v1h-1z M779,261h1v1h-1z M773,265h1v1h-1z M779,265h1v1h-1z" fill="#000"/>
<path d="M505,384h7v5h-7z M506,383h5v7h-5z" fill="#fff"/>
<path d="M506,382h5v1h-5z M506,390h5v1h-5z M504,384h1v5h-1z M512,384h1v5h-1z M505,383h2v1h-2z M510,383h2v1h-2z M505,389h2v1h-2z M510,389h2v1h-2z M505,384h1v1h-1z M511,384h1v1h-1z M505,388h1v1h-1z M511,388h1v1h-1z" fill="#000"/>
<path d="M662,412h7v5h-7z M663,411h5v7h-5z" fill="#fff"/>
<path d="M663,410h5v1h-5z M663,418h5v1h-5z M661,412h1v5h-1z M669,412h1v5h-1z M662,411h2v1h-2z M667,411h2v1h-2z M662,417h2v1h-2z M667,417h2v1h-2z M662,412h1v1h-1z M668,412h1v1h-1z M662,416h1v1h-1z M668,416h1v1h-1z" fill="#000"/>
<path d="M749,412h7v5h-7z M750,411h5v7h-5z" fill="#fff"/>
<path d="M750,410h5v1h-5z M750,418h5v1h-5z M748,412h1v5h-1z M756,412h1v5h-1z M749,411h2v1h-2z M754,411h2v1h-2z M749,417h2v1h-2z M754,417h2v1h-2z M749,412h1v1h-1z M755,412h1v1h-1z M749,416h1v1h-1z M755,416h1v1h-1z" fill="#000"/>
<path d="M849,412h7v5h-7z M850,411h5v7h-5z" fill="#fff"/>
<path d="M850,410h5v1h-5z M850,418h5v1h-5z M848,412h1v5h-1z M856,412h1v5h-1z M849,411h2v1h-2z M854,411h2v1h-2z M849,417h2v1h-2z M854,417h2v1h-2z M849,412h1v1h-1z M855,412h1v1h-1z M849,416h1v1h-1z M855,416h1v1h-1z" fill="#000"/>
<path d="M942,412h7v5h-7z M943,411h5v7h-5z" fill="#fff"/>
<path d="M943,410h5v1h-5z M943,418h5v1h-5z M941,412h1v5h-1z M949,412h1v5h-1z M942,411h2v1h-2z M947,411h2v1h-2z M942,417h2v1h-2z M947,417h2v1h-2z M942,412h1v1h-1z M948,412h1v1h-1z M942,416h1v1h-1z M948,416h1v1h-1z" fill="#000"/>
<path d="M942,492h7v5h-7z M943,491h5v7h-5z" fill="#fff"/>
<path d="M943,490h5v1h-5z M943,498h5v1h-5z M941,492h1v5h-1z M949,492h1v5h-1z M942,491h2v1h-2z M947,491h2v1h-2z M942,497h2v1h-2z M947,497h2v1h-2z M942,492h1v1h-1z M948,492h1v1h-1z M942,496h1v1h-1z M948,496h1v1h-1z" fill="#000"/>
<path d="M995,606h7v5h-7z M996,605h5v7h-5z" fill="#fff"/>
<path d="M996,604h5v1h-5z M996,612h5v1h-5z M994,606h1v5h-1z M1002,606h1v5h-1z M995,605h2v1h-2z M1000,605h2v1h-2z M995,611h2v1h-2z M1000,611h2v1h-2z M995,606h1v1h-1z M1001,606h1v1h-1z M995,610h1v1h-1z M1001,610h1v1h-1z" fill="#000"/>
<path d="M348,497h7v5h-7z M349,496h5v7h-5z" fill="#fff"/>
<path d="M349,495h5v1h-5z M349,503h5v1h-5z M347,497h1v5h-1z M355,497h1v5h-1z M348,496h2v1h-2z M353,496h2v1h-2z M348,502h2v1h-2z M353,502h2v1h-2z M348,497h1v1h-1z M354,497h1v1h-1z M348,501h1v1h-1z M354,501h1v1h-1z" fill="#000"/>
<path d="M450,497h7v5h-7z M451,496h5v7h-5z" fill="#fff"/>
<path d="M451,495h5v1h-5z M451,503h5v1h-5z M449,497h1v5h-1z M457,497h1v5h-1z M450,496h2v1h-2z M455,496h2v1h-2z M450,502h2v1h-2z M455,502h2v1h-2z M450,497h1v1h-1z M456,497h1v1h-1z M450,501h1v1h-1z M456,501h1v1h-1z" fill="#000"/>
<path d="M556,497h7v5h-7z M557,496h5v7h-5z" fill="#fff"/>
<path d="M557,495h5v1h-5z M557,503h5v1h-5z M555,497h1v5h-1z M563,497h1v5h-1z M556,496h2v1h-2z M561,496h2v1h-2z M556,502h2v1h-2z M561,502h2v1h-2z M556,497h1v1h-1z M562,497h1v1h-1z M556,501h1v1h-1z M562,501h1v1h-1z" fill="#000"/>
<path d="M662,497h7v5h-7z M663,496h5v7h-5z" fill="#fff"/>
<path d="M663,495h5v1h-5z M663,503h5v1h-5z M661,497h1v5h-1z M669,497h1v5h-1z M662,496h2v1h-2z M667,496h2v1h-2z M662,502h2v1h-2z M667,502h2v1h-2z M662,497h1v1h-1z M668,497h1v1h-1z M662,501h1v1h-1z M668,501h1v1h-1z" fill="#000"/>
<path d="M348,560h7v5h-7z M349,559h5v7h-5z" fill="#fff"/>
<path d="M349,558h5v1h-5z M349,566h5v1h-5z M347,560h1v5h-1z M355,560h1v5h-1z M348,559h2v1h-2z M353,559h2v1h-2z M348,565h2v1h-2z M353,565h2v1h-2z M348,560h1v1h-1z M354,560h1v1h-1z M348,564h1v1h-1z M354,564h1v1h-1z" fill="#000"/>
<path d="M662,603h7v5h-7z M663,602h5v7h-5z" fill="#fff"/>
<path d="M663,601h5v1h-5z M663,609h5v1h-5z M661,603h1v5h-1z M669,603h1v5h-1z M662,602h2v1h-2z M667,602h2v1h-2z M662,608h2v1h-2z M667,608h2v1h-2z M662,603h1v1h-1z M668,603h1v1h-1z M662,607h1v1h-1z M668,607h1v1h-1z" fill="#000"/>
<path d="M827,672h7v5h-7z M828,671h5v7h-5z" fill="#fff"/>
<path d="M828,670h5v1h-5z M828,678h5v1h-5z M826,672h1v5h-1z M834,672h1v5h-1z M827,671h2v1h-2z M832,671h2v1h-2z M827,677h2v1h-2z M832,677h2v1h-2z M827,672h1v1h-1z M833,672h1v1h-1z M827,676h1v1h-1z M833,676h1v1h-1z" fill="#000"/>
<path d="M348,671h7v5h-7z M349,670h5v7h-5z" fill="#fff"/>
<path d="M349,669h5v1h-5z M349,677h5v1h-5z M347,671h1v5h-1z M355,671h1v5h-1z M348,670h2v1h-2z M353,670h2v1h-2z M348,676h2v1h-2z M353,676h2v1h-2z M348,671h1v1h-1z M354,671h1v1h-1z M348,675h1v1h-1z M354,675h1v1h-1z" fill="#000"/>
<path d="M140,531h7v5h-7z M141,530h5v7h-5z" fill="#fff"/>
<path d="M141,529h5v1h-5z M141,537h5v1h-5z M139,531h1v5h-1z M147,531h1v5h-1z M140,530h2v1h-2z M145,530h2v1h-2z M140,536h2v1h-2z M145,536h2v1h-2z M140,531h1v1h-1z M146,531h1v1h-1z M140,535h1v1h-1z M146,535h1v1h-1z" fill="#000"/>
<path d="M250,531h7v5h-7z M251,530h5v7h-5z" fill="#fff"/>
<path d="M251,529h5v1h-5z M251,537h5v1h-5z M249,531h1v5h-1z M257,531h1v5h-1z M250,530h2v1h-2z M255,530h2v1h-2z M250,536h2v1h-2z M255,536h2v1h-2z M250,531h1v1h-1z M256,531h1v1h-1z M250,535h1v1h-1z M256,535h1v1h-1z" fill="#000"/>
<path d="M250,621h7v5h-7z M251,620h5v7h-5z" fill="#fff"/>
<path d="M251,619h5v1h-5z M251,627h5v1h-5z M249,621h1v5h-1z M257,621h1v5h-1z M250,620h2v1h-2z M255,620h2v1h-2z M250,626h2v1h-2z M255,626h2v1h-2z M250,621h1v1h-1z M256,621h1v1h-1z M250,625h1v1h-1z M256,625h1v1h-1z" fill="#000"/>
<path d="M150,621h7v5h-7z M151,620h5v7h-5z" fill="#fff"/>
<path d="M151,619h5v1h-5z M151,627h5v1h-5z M149,621h1v5h-1z M157,621h1v5h-1z M150,620h2v1h-2z M155,620h2v1h-2z M150,626h2v1h-2z M155,626h2v1h-2z M150,621h1v1h-1z M156,621h1v1h-1z M150,625h1v1h-1z M156,625h1v1h-1z" fill="#000"/>
<path d="M50,621h7v5h-7z M51,620h5v7h-5z" fill="#fff"/>
<path d="M51,619h5v1h-5z M51,627h5v1h-5z M49,621h1v5h-1z M57,621h1v5h-1z M50,620h2v1h-2z M55,620h2v1h-2z M50,626h2v1h-2z M55,626h2v1h-2z M50,621h1v1h-1z M56,621h1v1h-1z M50,625h1v1h-1z M56,625h1v1h-1z" fill="#000"/>
<path d="M100,671h7v5h-7z M101,670h5v7h-5z" fill="#fff"/>
<path d="M101,669h5v1h-5z M101,677h5v1h-5z M99,671h1v5h-1z M107,671h1v5h-1z M100,670h2v1h-2z M105,670h2v1h-2z M100,676h2v1h-2z M105,676h2v1h-2z M100,671h1v1h-1z M106,671h1v1h-1z M100,675h1v1h-1z M106,675h1v1h-1z" fill="#000"/>
<path d="M185,671h7v5h-7z M186,670h5v7h-5z" fill="#fff"/>
<path d="M186,669h5v1h-5z M186,677h5v1h-5z M184,671h1v5h-1z M192,671h1v5h-1z M185,670h2v1h-2z M190,670h2v1h-2z M185,676h2v1h-2z M190,676h2v1h-2z M185,671h1v1h-1z M191,671h1v1h-1z M185,675h1v1h-1z M191,675h1v1h-1z" fill="#000"/>
<path d="M258,671h7v5h-7z M259,670h5v7h-5z" fill="#fff"/>
<path d="M259,669h5v1h-5z M259,677h5v1h-5z M257,671h1v5h-1z M265,671h1v5h-1z M258,670h2v1h-2z M263,670h2v1h-2z M258,676h2v1h-2z M263,676h2v1h-2z M258,671h1v1h-1z M264,671h1v1h-1z M258,675h1v1h-1z M264,675h1v1h-1z" fill="#000"/>
<rect x="683.5" y="53.5" width="46" height="17" fill="#bfffbf" stroke="#000" stroke-width="1"/>
<text x="706.50" y="67" text-anchor="middle" class="ec" textLength="38.9" lengthAdjust="spacingAndGlyphs">1.1.1.76</text>
<rect x="683.5" y="78.5" width="46" height="17" fill="#bfffbf" stroke="#000" stroke-width="1"/>
<text x="706.50" y="92" text-anchor="middle" class="ec" textLength="30.5" lengthAdjust="spacingAndGlyphs">1.1.1.-</text>
<rect x="742.5" y="93.5" width="46" height="17" fill="#ffffff" stroke="#000" stroke-width="1"/>
<text x="765.50" y="107" text-anchor="middle" class="ec" textLength="32.9" lengthAdjust="spacingAndGlyphs">5.1.2.4</text>
<rect x="683.5" y="108.5" width="46" height="17" fill="#bfffbf" stroke="#000" stroke-width="1"/>
<text x="706.50" y="122" text-anchor="middle" class="ec" textLength="30.5" lengthAdjust="spacingAndGlyphs">1.1.1.-</text>
<rect x="683.5" y="133.5" width="46" height="17" fill="#bfffbf" stroke="#000" stroke-width="1"/>
<text x="706.50" y="147" text-anchor="middle" class="ec" textLength="32.9" lengthAdjust="spacingAndGlyphs">1.1.1.4</text>
<rect x="800.5" y="53.5" width="46" height="17" fill="#bfffbf" stroke="#000" stroke-width="1"/>
<text x="823.50" y="67" text-anchor="middle" class="ec" textLength="40.0" lengthAdjust="spacingAndGlyphs">1.1.1.304</text>
<rect x="801.5" y="108.5" width="46" height="17" fill="#bfffbf" stroke="#000" stroke-width="1"/>
<text x="824.50" y="122" text-anchor="middle" class="ec" textLength="40.0" lengthAdjust="spacingAndGlyphs">1.1.1.303</text>
<rect x="801.5" y="133.5" width="46" height="17" fill="#ffffff" stroke="#000" stroke-width="1"/>
<text x="824.50" y="147" text-anchor="middle" class="ec" textLength="32.9" lengthAdjust="spacingAndGlyphs">4.1.1.5</text>
<rect x="919.5" y="133.5" width="46" height="17" fill="#bfffbf" stroke="#000" stroke-width="1"/>
<text x="942.50" y="147" text-anchor="middle" class="ec" textLength="32.9" lengthAdjust="spacingAndGlyphs">2.2.1.6</text>
<rect x="361.5" y="205.5" width="46" height="17" fill="#bfffbf" stroke="#000" stroke-width="1"/>
<text x="384.50" y="219" text-anchor="middle" class="ec" textLength="32.9" lengthAdjust="spacingAndGlyphs">1.3.5.1</text>
<rect x="361.5" y="226.5" width="46" height="17" fill="#ffffff" stroke="#000" stroke-width="1"/>
<text x="384.50" y="240" text-anchor="middle" class="ec" textLength="32.9" lengthAdjust="spacingAndGlyphs">1.3.2.4</text>
<rect x="536.5" y="216.5" width="46" height="17" fill="#ffffff" stroke="#000" stroke-width="1"/>
<text x="559.50" y="230" text-anchor="middle" class="ec" textLength="32.9" lengthAdjust="spacingAndGlyphs">5.2.1.1</text>
<rect x="711.5" y="216.5" width="46" height="17" fill="#ffffff" stroke="#000" stroke-width="1"/>
<text x="734.50" y="230" text-anchor="middle" class="ec" textLength="38.9" lengthAdjust="spacingAndGlyphs">4.2.1.31</text>
<rect x="894.5" y="216.5" width="46" height="17" fill="#ffffff" stroke="#000" stroke-width="1"/>
<text x="917.50" y="230" text-anchor="middle" class="ec" textLength="38.9" lengthAdjust="spacingAndGlyphs">1.1.1.83</text>
<rect x="177.5" y="281.5" width="46" height="17" fill="#bfffbf" stroke="#000" stroke-width="1"/>
<text x="200.50" y="295" text-anchor="middle" class="ec" textLength="38.9" lengthAdjust="spacingAndGlyphs">2.8.3.18</text>
<rect x="226.5" y="339.5" width="46" height="17" fill="#ffffff" stroke="#000" stroke-width="1"/>
<text x="249.50" y="353" text-anchor="middle" class="ec" textLength="38.9" lengthAdjust="spacingAndGlyphs">1.2.1.76</text>
<rect x="276.5" y="272.5" width="46" height="17" fill="#bfffbf" stroke="#000" stroke-width="1"/>
<text x="299.50" y="286" text-anchor="middle" class="ec" textLength="38.9" lengthAdjust="spacingAndGlyphs">1.2.1.16</text>
<rect x="250.5" y="291.5" width="46" height="17" fill="#bfffbf" stroke="#000" stroke-width="1"/>
<text x="273.50" y="305" text-anchor="middle" class="ec" textLength="38.9" lengthAdjust="spacingAndGlyphs">1.2.1.79</text>
<rect x="300.5" y="291.5" width="46" height="17" fill="#ffffff" stroke="#000" stroke-width="1"/>
<text x="323.50" y="305" text-anchor="middle" class="ec" textLength="38.9" lengthAdjust="spacingAndGlyphs">1.2.1.24</text>
<rect x="125.5" y="403.5" width="46" height="17" fill="#ffffff" stroke="#000" stroke-width="1"/>
<text x="148.50" y="417" text-anchor="middle" class="ec" textLength="38.9" lengthAdjust="spacingAndGlyphs">4.1.1.15</text>
<rect x="226.5" y="392.5" width="46" height="17" fill="#bfffbf" stroke="#000" stroke-width="1"/>
<text x="249.50" y="406" text-anchor="middle" class="ec" textLength="38.9" lengthAdjust="spacingAndGlyphs">2.6.1.19</text>
<rect x="226.5" y="413.5" width="46" height="17" fill="#ffffff" stroke="#000" stroke-width="1"/>
<text x="249.50" y="427" text-anchor="middle" class="ec" textLength="38.9" lengthAdjust="spacingAndGlyphs">2.6.1.96</text>
<rect x="320.5" y="392.5" width="46" height="17" fill="#ffffff" stroke="#000" stroke-width="1"/>
<text x="343.50" y="406" text-anchor="middle" class="ec" textLength="38.9" lengthAdjust="spacingAndGlyphs">1.1.1.61</text>
<rect x="320.5" y="413.5" width="46" height="17" fill="#ffffff" stroke="#000" stroke-width="1"/>
<text x="343.50" y="427" text-anchor="middle" class="ec" textLength="30.5" lengthAdjust="spacingAndGlyphs">1.1.1.-</text>
<rect x="371.5" y="320.5" width="46" height="17" fill="#ffffff" stroke="#000" stroke-width="1"/>
<text transform="translate(394.50,334) scale(0.737,1)" text-anchor="middle" class="ec">1<tspan font-size="0">.</tspan>14<tspan font-size="0">.</tspan>13<tspan font-size="0">.</tspan>230</text>
<rect x="481.5" y="320.5" width="46" height="17" fill="#ffffff" stroke="#000" stroke-width="1"/>
<text x="504.50" y="334" text-anchor="middle" class="ec" textLength="30.5" lengthAdjust="spacingAndGlyphs">1.1.1.-</text>
<rect x="581.5" y="310.5" width="46" height="17" fill="#bfffbf" stroke="#000" stroke-width="1"/>
<text x="604.50" y="324" text-anchor="middle" class="ec" textLength="38.9" lengthAdjust="spacingAndGlyphs">1.2.1.10</text>
<rect x="581.5" y="331.5" width="46" height="17" fill="#ffffff" stroke="#000" stroke-width="1"/>
<text x="604.50" y="345" text-anchor="middle" class="ec" textLength="38.9" lengthAdjust="spacingAndGlyphs">1.2.1.57</text>
<rect x="699.5" y="255.5" width="46" height="17" fill="#ffffff" stroke="#000" stroke-width="1"/>
<text x="722.50" y="269" text-anchor="middle" class="ec" textLength="32.9" lengthAdjust="spacingAndGlyphs">2.7.2.7</text>
<rect x="617.5" y="286.5" width="46" height="17" fill="#ffffff" stroke="#000" stroke-width="1"/>
<text x="640.50" y="300" text-anchor="middle" class="ec" textLength="32.9" lengthAdjust="spacingAndGlyphs">2.8.3.8</text>
<rect x="666.5" y="286.5" width="46" height="17" fill="#ffffff" stroke="#000" stroke-width="1"/>
<text x="689.50" y="300" text-anchor="middle" class="ec" textLength="32.9" lengthAdjust="spacingAndGlyphs">6.2.1.2</text>
<rect x="754.5" y="286.5" width="46" height="17" fill="#ffffff" stroke="#000" stroke-width="1"/>
<text x="777.50" y="300" text-anchor="middle" class="ec" textLength="38.9" lengthAdjust="spacingAndGlyphs">2.3.1.19</text>
<rect x="617.5" y="357.5" width="46" height="17" fill="#ffffff" stroke="#000" stroke-width="1"/>
<text x="640.50" y="371" text-anchor="middle" class="ec" textLength="38.9" lengthAdjust="spacingAndGlyphs">1.3.1.86</text>
<rect x="667.5" y="357.5" width="46" height="17" fill="#ffffff" stroke="#000" stroke-width="1"/>
<text x="690.50" y="371" text-anchor="middle" class="ec" textLength="38.9" lengthAdjust="spacingAndGlyphs">1.3.1.44</text>
<rect x="716.5" y="357.5" width="46" height="17" fill="#ffffff" stroke="#000" stroke-width="1"/>
<text x="739.50" y="371" text-anchor="middle" class="ec" textLength="32.9" lengthAdjust="spacingAndGlyphs">1.3.8.1</text>
<rect x="561.5" y="380.5" width="46" height="17" fill="#ffffff" stroke="#000" stroke-width="1"/>
<text x="584.50" y="394" text-anchor="middle" class="ec" textLength="32.9" lengthAdjust="spacingAndGlyphs">5.3.3.3</text>
<rect x="413.5" y="403.5" width="46" height="17" fill="#ffffff" stroke="#000" stroke-width="1"/>
<text x="436.50" y="417" text-anchor="middle" class="ec" textLength="30.5" lengthAdjust="spacingAndGlyphs">2.8.3.-</text>
<rect x="511.5" y="403.5" width="46" height="17" fill="#ffffff" stroke="#000" stroke-width="1"/>
<text x="534.50" y="417" text-anchor="middle" class="ec" textLength="40.0" lengthAdjust="spacingAndGlyphs">4.2.1.120</text>
<rect x="691.5" y="406.5" width="46" height="17" fill="#ffffff" stroke="#000" stroke-width="1"/>
<text x="714.50" y="420" text-anchor="middle" class="ec" textLength="32.9" lengthAdjust="spacingAndGlyphs">7.2.4.5</text>
<rect x="780.5" y="406.5" width="46" height="17" fill="#ffffff" stroke="#000" stroke-width="1"/>
<text x="803.50" y="420" text-anchor="middle" class="ec" textLength="30.5" lengthAdjust="spacingAndGlyphs">4.2.1.-</text>
<rect x="874.5" y="406.5" width="46" height="17" fill="#bfffbf" stroke="#000" stroke-width="1"/>
<text x="897.50" y="420" text-anchor="middle" class="ec" textLength="38.9" lengthAdjust="spacingAndGlyphs">2.8.3.12</text>
<rect x="923.5" y="449.5" width="46" height="17" fill="#ffffff" stroke="#000" stroke-width="1"/>
<text x="946.50" y="463" text-anchor="middle" class="ec" textLength="38.9" lengthAdjust="spacingAndGlyphs">1.1.99.2</text>
<rect x="976.5" y="356.5" width="46" height="17" fill="#ffffff" stroke="#000" stroke-width="1"/>
<text x="999.50" y="370" text-anchor="middle" class="ec" textLength="38.9" lengthAdjust="spacingAndGlyphs">2.3.1.54</text>
<rect x="1011.5" y="384.5" width="46" height="17" fill="#ffffff" stroke="#000" stroke-width="1"/>
<text x="1034.50" y="398" text-anchor="middle" class="ec" textLength="32.9" lengthAdjust="spacingAndGlyphs">1.2.7.1</text>
<rect x="1061.5" y="384.5" width="46" height="17" fill="#ffffff" stroke="#000" stroke-width="1"/>
<text x="1084.50" y="398" text-anchor="middle" class="ec" textLength="38.9" lengthAdjust="spacingAndGlyphs">1.2.7.11</text>
<rect x="378.5" y="491.5" width="46" height="17" fill="#ffffff" stroke="#000" stroke-width="1"/>
<text x="401.50" y="505" text-anchor="middle" class="ec" textLength="38.9" lengthAdjust="spacingAndGlyphs">3.1.1.75</text>
<rect x="483.5" y="491.5" width="46" height="17" fill="#bfffbf" stroke="#000" stroke-width="1"/>
<text x="506.50" y="505" text-anchor="middle" class="ec" textLength="40.0" lengthAdjust="spacingAndGlyphs">2.3.1.304</text>
<rect x="590.5" y="491.5" width="46" height="17" fill="#bfffbf" stroke="#000" stroke-width="1"/>
<text x="613.50" y="505" text-anchor="middle" class="ec" textLength="32.9" lengthAdjust="spacingAndGlyphs">5.1.2.3</text>
<rect x="536.5" y="447.5" width="46" height="17" fill="#bfffbf" stroke="#000" stroke-width="1"/>
<text x="559.50" y="461" text-anchor="middle" class="ec" textLength="38.9" lengthAdjust="spacingAndGlyphs">4.2.1.55</text>
<rect x="617.5" y="447.5" width="46" height="17" fill="#bfffbf" stroke="#000" stroke-width="1"/>
<text x="640.50" y="461" text-anchor="middle" class="ec" textLength="38.9" lengthAdjust="spacingAndGlyphs">4.2.1.17</text>
<rect x="667.5" y="447.5" width="46" height="17" fill="#ffffff" stroke="#000" stroke-width="1"/>
<text x="690.50" y="461" text-anchor="middle" class="ec" textLength="40.0" lengthAdjust="spacingAndGlyphs">4.2.1.150</text>
<rect x="536.5" y="544.5" width="46" height="17" fill="#bfffbf" stroke="#000" stroke-width="1"/>
<text x="559.50" y="558" text-anchor="middle" class="ec" textLength="38.9" lengthAdjust="spacingAndGlyphs">1.1.1.36</text>
<rect x="617.5" y="544.5" width="46" height="17" fill="#bfffbf" stroke="#000" stroke-width="1"/>
<text x="640.50" y="558" text-anchor="middle" class="ec" textLength="38.9" lengthAdjust="spacingAndGlyphs">1.1.1.35</text>
<rect x="667.5" y="544.5" width="46" height="17" fill="#bfffbf" stroke="#000" stroke-width="1"/>
<text x="690.50" y="558" text-anchor="middle" class="ec" textLength="40.0" lengthAdjust="spacingAndGlyphs">1.1.1.157</text>
<rect x="807.5" y="600.5" width="46" height="17" fill="#bfffbf" stroke="#000" stroke-width="1"/>
<text x="830.50" y="614" text-anchor="middle" class="ec" textLength="32.9" lengthAdjust="spacingAndGlyphs">2.3.1.9</text>
<rect x="807.5" y="638.5" width="46" height="17" fill="#ffffff" stroke="#000" stroke-width="1"/>
<text x="830.50" y="652" text-anchor="middle" class="ec" textLength="38.9" lengthAdjust="spacingAndGlyphs">2.3.3.10</text>
<rect x="807.5" y="686.5" width="46" height="17" fill="#bfffbf" stroke="#000" stroke-width="1"/>
<text x="830.50" y="700" text-anchor="middle" class="ec" textLength="32.9" lengthAdjust="spacingAndGlyphs">4.1.3.4</text>
<rect x="328.5" y="522.5" width="46" height="17" fill="#ffffff" stroke="#000" stroke-width="1"/>
<text x="351.50" y="536" text-anchor="middle" class="ec" textLength="38.9" lengthAdjust="spacingAndGlyphs">3.1.1.22</text>
<rect x="328.5" y="585.5" width="46" height="17" fill="#bfffbf" stroke="#000" stroke-width="1"/>
<text x="351.50" y="599" text-anchor="middle" class="ec" textLength="38.9" lengthAdjust="spacingAndGlyphs">1.1.1.30</text>
<rect x="169.5" y="525.5" width="46" height="17" fill="#ffffff" stroke="#000" stroke-width="1"/>
<text transform="translate(192.50,539) scale(0.737,1)" text-anchor="middle" class="ec">1<tspan font-size="0">.</tspan>14<tspan font-size="0">.</tspan>13<tspan font-size="0">.</tspan>227</text>
<rect x="205.5" y="568.5" width="46" height="17" fill="#ffffff" stroke="#000" stroke-width="1"/>
<text x="228.50" y="582" text-anchor="middle" class="ec" textLength="38.9" lengthAdjust="spacingAndGlyphs">1.1.1.80</text>
<rect x="255.5" y="568.5" width="46" height="17" fill="#ffffff" stroke="#000" stroke-width="1"/>
<text x="278.50" y="582" text-anchor="middle" class="ec" textLength="30.5" lengthAdjust="spacingAndGlyphs">1.1.1.-</text>
<rect x="86.5" y="615.5" width="46" height="17" fill="#ffffff" stroke="#000" stroke-width="1"/>
<text x="109.50" y="629" text-anchor="middle" class="ec" textLength="40.0" lengthAdjust="spacingAndGlyphs">3.1.1.114</text>
<rect x="186.5" y="615.5" width="46" height="17" fill="#ffffff" stroke="#000" stroke-width="1"/>
<text transform="translate(209.50,629) scale(0.737,1)" text-anchor="middle" class="ec">1<tspan font-size="0">.</tspan>14<tspan font-size="0">.</tspan>13<tspan font-size="0">.</tspan>226</text>
<rect x="282.5" y="615.5" width="46" height="17" fill="#ffffff" stroke="#000" stroke-width="1"/>
<text x="305.50" y="629" text-anchor="middle" class="ec" textLength="32.9" lengthAdjust="spacingAndGlyphs">4.1.1.4</text>
<rect x="486.5" y="600.5" width="46" height="17" fill="#ffffff" stroke="#000" stroke-width="1"/>
<text x="509.50" y="614" text-anchor="middle" class="ec" textLength="38.9" lengthAdjust="spacingAndGlyphs">6.2.1.16</text>
<rect x="486.5" y="624.5" width="46" height="17" fill="#ffffff" stroke="#000" stroke-width="1"/>
<text x="509.50" y="638" text-anchor="middle" class="ec" textLength="38.9" lengthAdjust="spacingAndGlyphs">3.1.2.11</text>
<rect x="486.5" y="654.5" width="46" height="17" fill="#bfffbf" stroke="#000" stroke-width="1"/>
<text x="509.50" y="668" text-anchor="middle" class="ec" textLength="32.9" lengthAdjust="spacingAndGlyphs">2.8.3.5</text>
<rect x="486.5" y="675.5" width="46" height="17" fill="#ffffff" stroke="#000" stroke-width="1"/>
<text x="509.50" y="689" text-anchor="middle" class="ec" textLength="32.9" lengthAdjust="spacingAndGlyphs">2.8.3.8</text>
<rect x="277.5" y="665.5" width="46" height="17" fill="#ffffff" stroke="#000" stroke-width="1"/>
<text x="300.50" y="679" text-anchor="middle" class="ec" textLength="38.9" lengthAdjust="spacingAndGlyphs">4.2.1.27</text>
<text transform="translate(733,50) scale(0.92,1)" class="nm" text-anchor="start">(S)-2-Acetoin</text>
<text transform="translate(863,50) scale(0.92,1)" class="nm" text-anchor="start">Diacetyl</text>
<text transform="translate(535,66) scale(0.92,1)" class="nm" text-anchor="start">(S,S)-Butane-2,3-diol</text>
<text transform="translate(535,122) scale(0.92,1)" class="nm" text-anchor="start">meso-Butane-2,3-diol</text>
<text transform="translate(535,146) scale(0.92,1)" class="nm" text-anchor="start">(R,R)-Butane-2,3-diol</text>
<text transform="translate(733,161) scale(0.92,1)" class="nm" text-anchor="start">(R)-2-Acetoin</text>
<text transform="translate(844,162) scale(0.92,1)" class="nm" text-anchor="start">(S)-2-Acetolactate</text>
<text transform="translate(1005,182) scale(0.92,1)" class="nm" text-anchor="start">Pyruvate</text>
<text transform="translate(293,217) scale(0.92,1)" class="nm" text-anchor="end">Succinate</text>
<text transform="translate(477,245) scale(0.92,1)" class="nm" text-anchor="middle">Fumarate</text>
<text transform="translate(654,244) scale(0.92,1)" class="nm" text-anchor="middle">Maleate</text>
<text transform="translate(802,243) scale(0.92,1)" class="nm" text-anchor="start">(R)-Malate</text>
<text transform="translate(658,266) scale(0.92,1)" class="nm" text-anchor="end">Butanoate</text>
<text transform="translate(784,267) scale(0.92,1)" class="nm" text-anchor="start">Butanoyl-P</text>
<text transform="translate(677,318) scale(0.92,1)" class="nm" text-anchor="start">Butanoyl-CoA</text>
<text transform="translate(426,318) scale(0.92,1)" class="nm" text-anchor="start">1-Butanol</text>
<text transform="translate(537,318) scale(0.92,1)" class="nm" text-anchor="start">Butanal</text>
<text transform="translate(343,346) scale(0.92,1)" class="nm" text-anchor="middle">Butane</text>
<text transform="translate(144,350) scale(0.92,1)" class="nm" text-anchor="start">Succinyl-</text>
<text transform="translate(144,361) scale(0.92,1)" class="nm" text-anchor="start">CoA</text>
<text transform="translate(37,416) scale(0.92,1)" class="nm" text-anchor="start">L-Glutamate</text>
<text transform="translate(176,393) scale(0.92,1)" class="nm" text-anchor="start">4-Amino-</text>
<text transform="translate(176,403) scale(0.92,1)" class="nm" text-anchor="start">butanoate</text>
<text transform="translate(372,392) scale(0.92,1)" class="nm" text-anchor="start">4-Hydroxy-</text>
<text transform="translate(372,402) scale(0.92,1)" class="nm" text-anchor="start">butanoate</text>
<text transform="translate(452,433) scale(0.92,1)" class="nm" text-anchor="start">4-Hydroxy-</text>
<text transform="translate(452,444) scale(0.92,1)" class="nm" text-anchor="start">butanoyl-CoA</text>
<text transform="translate(465,376) scale(0.92,1)" class="nm" text-anchor="start">3-Butenoyl-CoA</text>
<text transform="translate(302,442) scale(0.92,1)" class="nm" text-anchor="start">Succinate</text>
<text transform="translate(302,453) scale(0.92,1)" class="nm" text-anchor="start">semialdehyde</text>
<text transform="translate(582,436) scale(0.92,1)" class="nm" text-anchor="start">Crotonoyl-CoA</text>
<text transform="translate(713,439) scale(0.92,1)" class="nm" text-anchor="start">Glutaconyl-CoA</text>
<text transform="translate(825,439) scale(0.92,1)" class="nm" text-anchor="start">2-Hydroxy-</text>
<text transform="translate(825,450) scale(0.92,1)" class="nm" text-anchor="start">glutaryl-CoA</text>
<text transform="translate(924,394) scale(0.92,1)" class="nm" text-anchor="start">2-Hydroxy-</text>
<text transform="translate(924,404) scale(0.92,1)" class="nm" text-anchor="start">glutarate</text>
<text transform="translate(909,518) scale(0.92,1)" class="nm" text-anchor="start">2-Oxoglutarate</text>
<text transform="translate(312,474) scale(0.92,1)" class="nm" text-anchor="start">(R)-3-((R)-3-Hydroxy-</text>
<text transform="translate(312,484) scale(0.92,1)" class="nm" text-anchor="start">butanoyloxy)butanoate</text>
<text transform="translate(408,523) scale(0.92,1)" class="nm" text-anchor="start">Poly-β-hydroxybutyrate</text>
<text transform="translate(567,522) scale(0.92,1)" class="nm" text-anchor="start">(R)-3-Hydroxy-</text>
<text transform="translate(567,532) scale(0.92,1)" class="nm" text-anchor="start">butanoyl-CoA</text>
<text transform="translate(676,498) scale(0.92,1)" class="nm" text-anchor="start">(S)-3-Hydroxy-</text>
<text transform="translate(676,508) scale(0.92,1)" class="nm" text-anchor="start">butanoyl-CoA</text>
<text transform="translate(577,594) scale(0.92,1)" class="nm" text-anchor="start">Acetoacetyl-CoA</text>
<text transform="translate(1015,626) scale(0.92,1)" class="nm" text-anchor="start">Acetyl-CoA</text>
<text transform="translate(842,670) scale(0.92,1)" class="nm" text-anchor="start">(S)-3-Hydroxy-</text>
<text transform="translate(842,681) scale(0.92,1)" class="nm" text-anchor="start">3-methylglutaryl-CoA</text>
<text transform="translate(363,569) scale(0.92,1)" class="nm" text-anchor="start">(R)-3-Hydroxybutanoate</text>
<text transform="translate(367,667) scale(0.92,1)" class="nm" text-anchor="start">Acetoacetate</text>
<text transform="translate(136,538) scale(0.92,1)" class="nm" text-anchor="end">Propane</text>
<text transform="translate(241,524) scale(0.92,1)" class="nm" text-anchor="start">2-Propanol</text>
<text transform="translate(56,644) scale(0.92,1)" class="nm" text-anchor="middle">Methanol</text>
<text transform="translate(160,645) scale(0.92,1)" class="nm" text-anchor="middle">Methyl acetate</text>
<text transform="translate(261,644) scale(0.92,1)" class="nm" text-anchor="middle">Acetone</text>
<text transform="translate(73,694) scale(0.92,1)" class="nm" text-anchor="start">3-Butyn-1-ol</text>
<text transform="translate(151,695) scale(0.92,1)" class="nm" text-anchor="start">3-Butyn-1-al</text>
<text transform="translate(229,694) scale(0.92,1)" class="nm" text-anchor="start">3-Butynoate</text>
<text transform="translate(16,792) scale(0.92,1)" class="nm" text-anchor="start">00650 10/30/25</text>
<text transform="translate(16,803) scale(0.92,1)" class="nm" text-anchor="start">(c) Kanehisa Laboratories</text>
</svg></body></html>
